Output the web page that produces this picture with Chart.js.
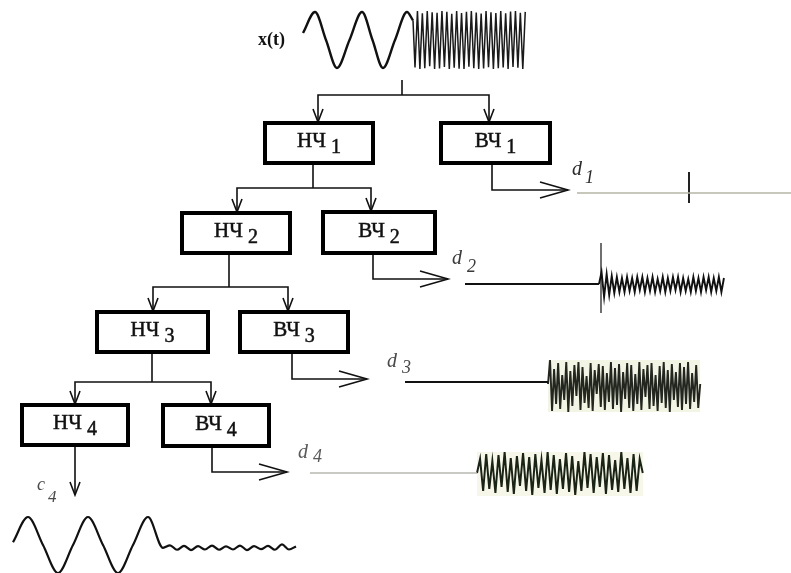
<!DOCTYPE html>
<html>
<head>
<meta charset="utf-8">
<script src="https://cdn.jsdelivr.net/npm/chart.js@4.4.0/dist/chart.umd.min.js"></script>
<style>
  html, body { margin: 0; padding: 0; background: #fff; overflow: hidden; }
</style>
</head>
<body>
<canvas id="myChart" width="791" height="573"></canvas>
<script>
// ---- values ----

// x(t): slow part (peaks / zero crossings), then the fast part
const xtSlowT = [0, 12, 23, 34, 46.5, 59, 69.5, 80, 92, 104, 110];
const xtSlowV = [0.25, 1, 0, -1, 0, 1, 0, -1, 0, 1, 0.7];
const xtFast = [-0.95, 1, -1, 0.92, -0.97, 1, -0.9, 0.96, -1, 0.94, -0.98, 1, -0.93, 0.97, -1, 0.9,
    -0.96, 1, -0.99, 0.93, -1, 0.97, -0.92, 1, -0.97, 0.95, -1, 0.91, -0.98, 1, -0.94, 0.96,
    -1, 0.93, -0.97, 1, -0.95, 0.92, -1, 0.98, -0.93, 1, -0.96, 0.94, -1, 0.97];

// detail signals
const d1Spike = [21, -10];
const d2Spike = [41, -29];
const d2Fast = [0, 12, -13, 10, -11, 8, -9, 7, -8, 6, -8, 7, -7, 6, -8, 7, -6, 7, -8, 6,
    -7, 7, -8, 5, -7, 7, -8, 6, -7, 7, -6, 7, -8, 6, -7, 5, -8, 7, -7, 6,
    -8, 7, -6, 7, -8, 6, -7, 7, -8, 6];
const d3Noise = [0, 24, -27, 15, -20, 21, -25, 9, -16, 22, -28, 13, -22, 19, -12, 22, -26, 17, -19, 8,
    -24, 21, -27, 14, -10, 20, -23, 18, -26, 11, -18, 22, -25, 16, -21, 20, -28, 12, -15, 21,
    -24, 19, -27, 10, -20, 22, -26, 15, -13, 19, -25, 21, -22, 9, -27, 18, -19, 22, -24, 14,
    -28, 20, -16, 12, -23, 21, -26, 17, -20, 22, -25, 11, -18, 19, -24, 0];
const d4Noise = [0, 14, -18, 19, -16, 12, -20, 18, -14, 21, -19, 15, -21, 17, -13, 20, -18, 16, -22, 19,
    -15, 13, -20, 21, -17, 18, -21, 14, -16, 20, -19, 17, -22, 12, -18, 21, -15, 19, -20, 16,
    -14, 20, -21, 18, -17, 13, -19, 21, -16, 15, -20, 19, -18, 14, 0];

// approximation c4
const c4SlowT = [0, 15, 30, 45, 60, 75, 90, 105, 120, 135, 150];
const c4SlowV = [0.1, 1, 0, -1, 0, 1, 0, -1, 0, 1, -0.1];
const c4Ripple = [-0.1, -0.01, -0.17, -0.03, -0.18, -0.04, -0.16, -0.02, -0.17, -0.05,
    -0.16, -0.02, -0.18, -0.04, -0.15, -0.03, -0.17, 0.02, -0.16, -0.05];

// filter boxes
const boxNames = ["НЧ", "ВЧ", "НЧ", "ВЧ", "НЧ", "ВЧ", "НЧ", "ВЧ"];
const boxLevels = ["1", "1", "2", "2", "3", "3", "4", "4"];

// ---- layout (diagram coordinates) ----
const boxLeft = [265, 441, 182, 323, 97, 240, 22, 163];
const boxRight = [373, 550, 290, 435, 208, 348, 128, 269];
const boxTop = [123, 123, 213, 212, 312, 312, 405, 405];
const boxBottom = [163, 163, 253, 253, 352, 352, 445, 446];
const inX = [318, 489, 237, 371, 153, 288, 75, 211];
const outX = [313, 492, 229, 373, 152, 292, 75, 212];
const branchY = [95, 188, 287, 382];
const detailY = [190, 279, 379, 472];
const detailTip = [568, 448, 367, 287];

const ctx = document.getElementById("myChart").getContext("2d");

const pts = (x0, y0, step, gain, vals) => vals.map((v, i) => ({ x: x0 + i * step, y: y0 - v * gain }));
const ptsT = (x0, y0, gain, ts, vals) => ts.map((t, i) => ({ x: x0 + t, y: y0 - vals[i] * gain }));
const GAP = { x: null, y: null };

const line = (data, color, width, extra) => Object.assign({
    data: data,
    showLine: true,
    borderColor: color,
    borderWidth: width,
    pointRadius: 0,
    fill: false,
    tension: 0
}, extra || {});

// tree connectors
var tree = [];
var heads = [];
const downHead = (x, y) => [{ x: x - 5, y: y - 13 }, { x: x, y: y }, { x: x + 5, y: y - 13 }, GAP];
const rightHead = (x, y) => [{ x: x - 28, y: y - 8 }, { x: x, y: y }, { x: x - 28, y: y + 8 }, GAP];

for (var L = 0; L < 4; L++) {
    var lo = 2 * L, hi = 2 * L + 1;
    // stem coming from the parent
    if (L == 0) {
        tree.push({ x: 402, y: 80 }, { x: 402, y: branchY[0] }, GAP);
    } else {
        tree.push({ x: outX[lo - 2], y: boxBottom[lo - 2] }, { x: outX[lo - 2], y: branchY[L] }, GAP);
    }
    tree.push({ x: inX[lo], y: boxTop[lo] - 1 }, { x: inX[lo], y: branchY[L] }, { x: inX[hi], y: branchY[L] }, { x: inX[hi], y: boxTop[hi] - 1 }, GAP);
    heads.push(...downHead(inX[lo], boxTop[lo] - 1), ...downHead(inX[hi], boxTop[hi] - 1));
    // high-pass output
    tree.push({ x: outX[hi], y: boxBottom[hi] }, { x: outX[hi], y: detailY[L] }, { x: detailTip[L], y: detailY[L] }, GAP);
    heads.push(...rightHead(detailTip[L], detailY[L]));
}
tree.push({ x: outX[6], y: boxBottom[6] }, { x: outX[6], y: 495 }, GAP);
heads.push(...downHead(outX[6], 495));

const datasets = [];

// boxes
for (var b = 0; b < boxNames.length; b++) {
    datasets.push(line([
        { x: boxLeft[b], y: boxTop[b] }, { x: boxRight[b], y: boxTop[b] },
        { x: boxRight[b], y: boxBottom[b] }, { x: boxLeft[b], y: boxBottom[b] },
        { x: boxLeft[b], y: boxTop[b] }
    ], "#000", 4, { borderJoinStyle: "miter", borderCapStyle: "square" }));
}

datasets.push(line(tree, "#111", 1.6, { spanGaps: false }));
datasets.push(line(heads, "#111", 1.6, { spanGaps: false }));

// x(t)
datasets.push(line(ptsT(303, 40, 28, xtSlowT, xtSlowV), "#111", 2.4, { cubicInterpolationMode: "monotone" }));
datasets.push(line([{ x: 413, y: 40 - 0.7 * 28 }].concat(pts(415, 40, 2.45, 29, xtFast)), "#1a1a1a", 1.5));

// d1
datasets.push(line([{ x: 577, y: 193 }, { x: 791, y: 193 }], "#b4b4a6", 1.6));
datasets.push(line(pts(689, 193, 0, 1, d1Spike), "#222", 2));

// d2
datasets.push(line([{ x: 465, y: 284 }, { x: 599, y: 284 }], "#111", 2));
datasets.push(line(pts(601, 284, 0, 1, d2Spike), "#111", 1.2));
datasets.push(line(pts(599, 284, 2.55, 1, d2Fast), "#111", 1.9));

// d3
datasets.push(line([{ x: 548, y: 360 }, { x: 700, y: 360 }, { x: 700, y: 412 }, { x: 548, y: 412 }],
    "rgba(0,0,0,0)", 0, { fill: "shape", backgroundColor: "rgba(232,235,205,0.55)", order: 10 }));
datasets.push(line([{ x: 405, y: 382 }, { x: 548, y: 382 }], "#111", 2));
datasets.push(line(pts(548, 384, 2.03, 1, d3Noise), "#22261e", 1.9));

// d4
datasets.push(line([{ x: 477, y: 452 }, { x: 643, y: 452 }, { x: 643, y: 496 }, { x: 477, y: 496 }],
    "rgba(0,0,0,0)", 0, { fill: "shape", backgroundColor: "rgba(238,241,215,0.55)", order: 10 }));
datasets.push(line([{ x: 310, y: 473 }, { x: 477, y: 473 }], "#b8b8b0", 1.6));
datasets.push(line(pts(477, 473, 3.07, 1, d4Noise), "#1a2416", 2));

// c4
datasets.push(line(
    ptsT(13, 545, 28, c4SlowT, c4SlowV).concat(pts(170, 545, 7, 28, c4Ripple.slice(1))),
    "#111", 2.2, { cubicInterpolationMode: "monotone" }));

// text labels
const texts = [
    // [text, sub, x, baseline, subDx, subDy, font, subFont, color]
    ["d", "1", 572, 175, 13, 8, "italic 20px 'Liberation Serif'", "italic 18px 'Liberation Serif'", "#2a2a2a"],
    ["d", "2", 452, 264, 15, 8, "italic 20px 'Liberation Serif'", "italic 18px 'Liberation Serif'", "#3a3a3a"],
    ["d", "3", 387, 367, 15, 6, "italic 20px 'Liberation Serif'", "italic 18px 'Liberation Serif'", "#4a4a4a"],
    ["d", "4", 298, 458, 15, 4, "italic 20px 'Liberation Serif'", "italic 18px 'Liberation Serif'", "#5a5a5a"],
    ["c", "4", 37, 490, 11, 12, "italic 18px 'Liberation Serif'", "italic 17px 'Liberation Serif'", "#4a4a4a"]
];

const labelPlugin = {
    id: "labels",
    afterDatasetsDraw(chart) {
        const c = chart.ctx;
        const sx = chart.scales.x, sy = chart.scales.y;
        c.save();
        c.textBaseline = "alphabetic";
        c.textAlign = "left";
        c.lineWidth = 0.5;

        // x(t)
        c.fillStyle = "#111";
        c.font = "bold 18px 'Liberation Serif'";
        c.fillText("x(t)", sx.getPixelForValue(258), sy.getPixelForValue(45));

        // box labels
        for (var b = 0; b < boxNames.length; b++) {
            c.font = "21px 'Liberation Serif'";
            var w1 = c.measureText(boxNames[b]).width;
            c.font = "20px 'Liberation Serif'";
            var w2 = c.measureText(boxLevels[b]).width;
            var gap = 5;
            var cx = (boxLeft[b] + boxRight[b]) / 2;
            var cy = (boxTop[b] + boxBottom[b]) / 2;
            var x0 = sx.getPixelForValue(cx) - (w1 + gap + w2) / 2;
            var y0 = sy.getPixelForValue(cy);
            c.fillStyle = "#111";
            c.strokeStyle = "#111";
            c.font = "21px 'Liberation Serif'";
            c.fillText(boxNames[b], x0, y0 + 4);
            c.strokeText(boxNames[b], x0, y0 + 4);
            c.font = "20px 'Liberation Serif'";
            c.fillText(boxLevels[b], x0 + w1 + gap, y0 + 10);
            c.strokeText(boxLevels[b], x0 + w1 + gap, y0 + 10);
        }

        // detail labels
        for (var t of texts) {
            var px = sx.getPixelForValue(t[2]), py = sy.getPixelForValue(t[3]);
            c.fillStyle = t[8];
            c.font = t[6];
            c.fillText(t[0], px, py);
            c.font = t[7];
            c.fillText(t[1], px + t[4], py + t[5]);
        }
        c.restore();
    }
};

var myChart = new Chart(ctx, {
    type: "scatter",
    data: { datasets: datasets },
    options: {
        responsive: false,
        animation: false,
        layout: { padding: 0 },
        plugins: {
            legend: { display: false },
            tooltip: { enabled: false }
        },
        scales: {
            x: { type: "linear", min: 0, max: 791, display: false },
            y: { type: "linear", min: 0, max: 573, reverse: true, display: false }
        },
        elements: { point: { radius: 0 } }
    },
    plugins: [labelPlugin]
});
</script>
</body>
</html>
